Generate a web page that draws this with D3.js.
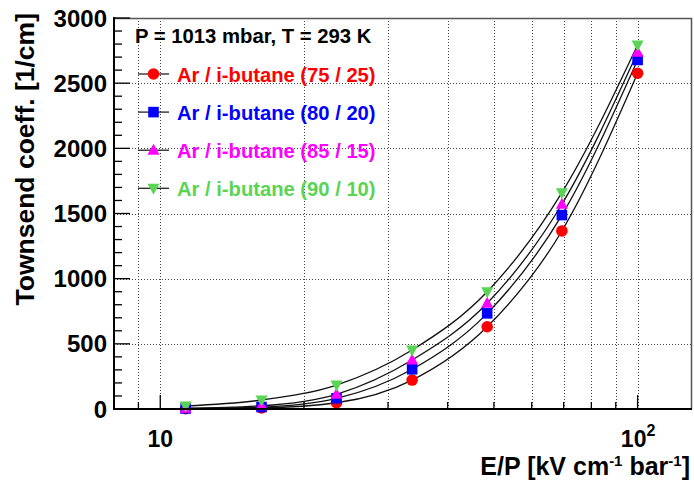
<!DOCTYPE html>
<html><head><meta charset="utf-8">
<script src="https://cdn.jsdelivr.net/npm/d3@7"></script>
<style>
body{margin:0;background:#fff}
svg{display:block}
text{font-family:"Liberation Sans",Arial,Helvetica,sans-serif;font-weight:bold}
</style>
</head><body>
<svg id="c" width="694" height="481"></svg>
<script>
// ---- data ----
const epValues = [11.3, 16.3, 23.4, 33.7, 48.4, 69.4, 100];
const ar75 = [2, 8, 48, 222, 631, 1366, 2576];
const ar80 = [4, 15, 82, 305, 734, 1488, 2678];
const ar85 = [6, 25, 113, 376, 811, 1571, 2737];
const ar90 = [23, 69, 184, 453, 900, 1660, 2793];
const seriesNames = ["Ar / i-butane (75 / 25)", "Ar / i-butane (80 / 20)", "Ar / i-butane (85 / 15)", "Ar / i-butane (90 / 10)"];
const seriesColors = ["#ff0000", "#0000ff", "#ff00ff", "#59d454"];
const seriesMarkers = ["circle", "square", "triUp", "triDown"];
const headerText = "P = 1013 mbar, T = 293 K";
const xDomain = [8, 130];
const yDomain = [0, 3000];
const xMajorTicks = [10, 100];
const xMinorTicks = [9, 20, 30, 40, 50, 60, 70, 80, 90];
const yMajorTicks = [0, 500, 1000, 1500, 2000, 2500, 3000];
const yMinorTicks = d3.range(0, 3001, 100);

const seriesValues = [ar75, ar80, ar85, ar90];

// ---- layout ----
const L = 114, R = 692, T = 18, B = 409;
const svg = d3.select("#c");
const x = d3.scaleLog().domain(xDomain).range([L, R]);
const y = d3.scaleLinear().domain(yDomain).range([B, T]);

// grid
const grid = svg.append("g").attr("stroke", "#444").attr("stroke-width", 1).attr("stroke-dasharray", "1,2");
xMajorTicks.concat(xMinorTicks).forEach(v => {
  grid.append("line").attr("x1", Math.round(x(v)) + 0.5).attr("x2", Math.round(x(v)) + 0.5).attr("y1", T).attr("y2", B);
});
yMajorTicks.forEach(v => {
  grid.append("line").attr("x1", L).attr("x2", R).attr("y1", Math.round(y(v)) + 0.5).attr("y2", Math.round(y(v)) + 0.5);
});

// frame top/right
svg.append("path").attr("d", `M${L},${T}.5H${R - 0.5}V${B}`).attr("fill", "none").attr("stroke", "#555").attr("stroke-width", 1.5);

// smooth fit curves through the measured points
const line = d3.line().x(d => x(d[0])).y(d => y(d[1])).curve(d3.curveMonotoneX);
seriesValues.forEach(vals => {
  const pts = epValues.map((xv, i) => [xv, vals[i]]);
  svg.append("path").attr("d", line(pts)).attr("fill", "none").attr("stroke", "#111").attr("stroke-width", 1.3);
});

// markers
function marker(g, type, cx, cy, color) {
  if (type === "circle") g.append("circle").attr("cx", cx).attr("cy", cy).attr("r", 5.8).attr("fill", color);
  else if (type === "square") g.append("rect").attr("x", cx - 5.3).attr("y", cy - 5.3).attr("width", 10.6).attr("height", 10.6).attr("fill", color);
  else if (type === "triUp") g.append("path").attr("d", `M${cx},${cy - 6.5}L${cx + 6},${cy + 4.5}L${cx - 6},${cy + 4.5}Z`).attr("fill", color);
  else g.append("path").attr("d", `M${cx},${cy + 6.5}L${cx + 6},${cy - 4.5}L${cx - 6},${cy - 4.5}Z`).attr("fill", color);
}
const pg = svg.append("g");
seriesValues.forEach((vals, s) => {
  vals.forEach((v, i) => marker(pg, seriesMarkers[s], x(epValues[i]), y(v), seriesColors[s]));
});

// axes lines
svg.append("line").attr("x1", L).attr("x2", L).attr("y1", T - 1).attr("y2", B + 1).attr("stroke", "#000").attr("stroke-width", 2);
svg.append("line").attr("x1", L - 1).attr("x2", R).attr("y1", B).attr("y2", B).attr("stroke", "#000").attr("stroke-width", 2);

// ticks
const tk = svg.append("g").attr("stroke", "#000").attr("stroke-width", 1.3);
yMinorTicks.forEach(v => {
  const major = v % 500 === 0;
  tk.append("line").attr("x1", L).attr("x2", L + (major ? 16 : 8)).attr("y1", y(v)).attr("y2", y(v));
});
xMajorTicks.forEach(v => tk.append("line").attr("x1", x(v)).attr("x2", x(v)).attr("y1", B).attr("y2", B - 14));
xMinorTicks.forEach(v => tk.append("line").attr("x1", x(v)).attr("x2", x(v)).attr("y1", B).attr("y2", B - 7));

// y labels
yMajorTicks.forEach(v => {
  svg.append("text").attr("x", 107).attr("y", y(v) + 8.5).attr("text-anchor", "end").attr("font-size", 24).text(v);
});
// x labels
xMajorTicks.forEach(v => {
  const e = Math.round(Math.log10(v));
  const t = svg.append("text").attr("y", 447).attr("font-size", 23).attr("text-anchor", "middle");
  if (e === 1) { t.attr("x", x(v)).text("10"); }
  else {
    t.attr("x", x(v) + 0.5);
    t.append("tspan").text("10");
    t.append("tspan").attr("dy", -11).attr("font-size", 16).text(e);
  }
});

// axis titles
const xt = svg.append("text").attr("x", 690).attr("y", 475).attr("text-anchor", "end").attr("font-size", 25);
xt.append("tspan").text("E/P [kV cm");
xt.append("tspan").attr("dy", -9).attr("font-size", 15).text("-1");
xt.append("tspan").attr("dy", 9).text(" bar");
xt.append("tspan").attr("dy", -9).attr("font-size", 15).text("-1");
xt.append("tspan").attr("dy", 9).text("]");

svg.append("text").attr("transform", "translate(34,13) rotate(-90)").attr("text-anchor", "end").attr("font-size", 26.5).text("Townsend coeff. [1/cm]");

// legend
svg.append("text").attr("x", 135).attr("y", 43).attr("font-size", 20.3).attr("fill", "#000").text(headerText);
const lg = svg.append("g");
seriesNames.forEach((n, i) => {
  const cy = 74 + i * 38.1;
  lg.append("line").attr("x1", 138).attr("x2", 169).attr("y1", cy).attr("y2", cy).attr("stroke", "#222").attr("stroke-width", 1.3);
  marker(lg, seriesMarkers[i], 153.5, cy, seriesColors[i]);
  lg.append("text").attr("x", 177).attr("y", cy + 7.5).attr("font-size", 20.2).attr("fill", seriesColors[i]).text(n);
});
</script>
</body></html>
